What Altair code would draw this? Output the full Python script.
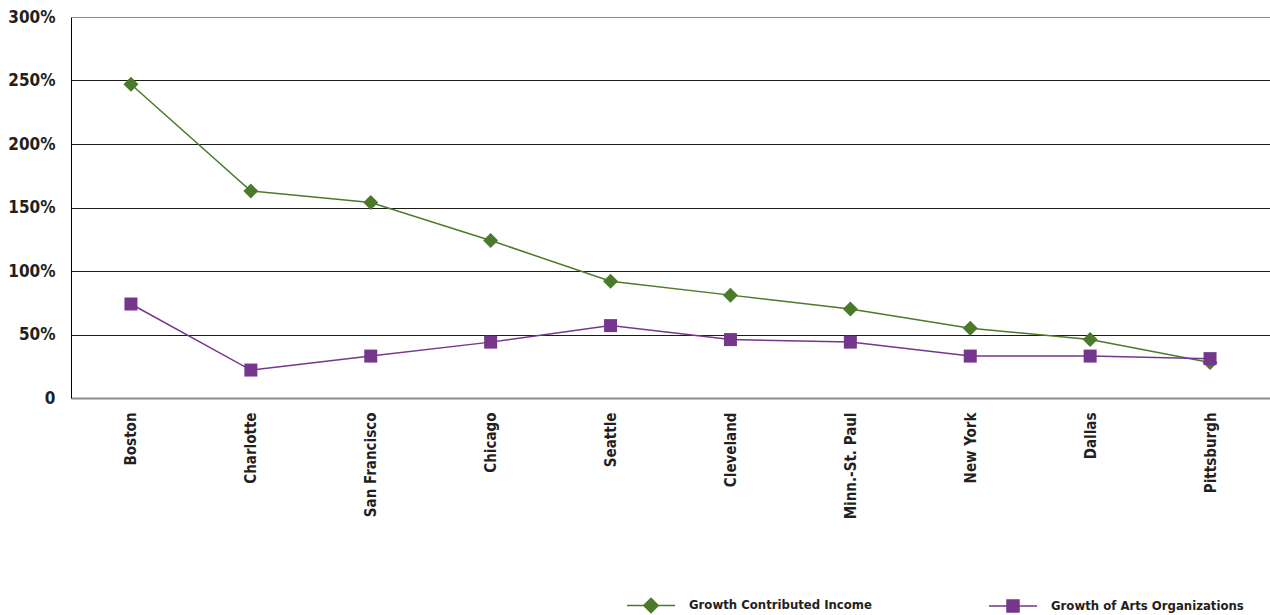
import altair as alt
import pandas as pd

cities = ["Boston", "Charlotte", "San Francisco", "Chicago", "Seattle",
          "Cleveland", "Minn.-St. Paul", "New York", "Dallas", "Pittsburgh"]
income_growth = [247, 163, 154, 124, 92, 81, 70, 55, 46, 28]
orgs_growth = [74, 22, 33, 44, 57, 46, 44, 33, 33, 31]
series_names = ["Growth Contributed Income", "Growth of Arts Organizations"]
y_ticks = [0, 50, 100, 150, 200, 250, 300]

GREEN = "#4a7a2a"
PURPLE = "#75378b"
FONT = "DejaVu Sans Condensed, sans-serif"
TEXT = "#231f20"

rows = []
for c, v in zip(cities, income_growth):
    rows.append({"city": c, "value": v, "series": series_names[0]})
for c, v in zip(cities, orgs_growth):
    rows.append({"city": c, "value": v, "series": series_names[1]})
df = pd.DataFrame(rows)

x_enc = alt.X("city:N", sort=cities, scale=alt.Scale(padding=0.5),
              axis=alt.Axis(title=None, labelAngle=270, labelAlign="right",
                            labelBaseline="middle", labelPadding=14,
                            ticks=False, domainColor="#8c8c8c", domainWidth=2,
                            labelFont=FONT, labelFontSize=15,
                            labelFontWeight="bold", labelColor=TEXT))
y_enc = alt.Y("value:Q", scale=alt.Scale(domain=[0, 300], nice=False),
              axis=alt.Axis(title=None, values=y_ticks, ticks=False,
                            labelExpr="datum.value === 0 ? '0' : datum.value + '%'",
                            labelPadding=16, labelFont=FONT, labelFontSize=17,
                            labelFontWeight="bold", labelColor=TEXT,
                            domainColor="#000000", domainWidth=1,
                            grid=True,
                            gridColor={"condition": {"test": "datum.value === 300 || datum.value === 0",
                                                     "value": "#8c8c8c"},
                                       "value": "#1a1a1a"},
                            gridWidth=1))

color_scale = alt.Scale(domain=series_names, range=[GREEN, PURPLE])

base = alt.Chart(df)

lines = base.mark_line(strokeWidth=1.5).encode(
    x=x_enc, y=y_enc,
    color=alt.Color("series:N", scale=color_scale, legend=None),
    detail="series:N",
)

diamonds = base.transform_filter(
    alt.datum.series == series_names[0]
).mark_point(shape="diamond", filled=True, size=225, opacity=1).encode(
    x=x_enc, y=y_enc,
    color=alt.Color("series:N", scale=color_scale, legend=None),
)

squares = base.transform_filter(
    alt.datum.series == series_names[1]
).mark_point(shape="square", filled=True, size=169, opacity=1).encode(
    x=x_enc, y=y_enc,
    color=alt.Color("series:N", scale=color_scale, legend=None),
)

legend_shapes = [
    "M-1,0L1,0M0,-0.3L0.3,0L0,0.3L-0.3,0Z",
    "M-1,0L1,0M-0.25,-0.25L0.25,-0.25L0.25,0.25L-0.25,0.25Z",
]
legend_def = alt.Legend(
    title=None, orient="none", legendX=555, legendY=563, direction="horizontal",
    columns=2, columnPadding=114, symbolSize=2304, symbolStrokeWidth=1.5,
    symbolOpacity=1, labelOffset=13, labelFont=FONT, labelFontSize=13,
    labelFontWeight="bold", labelColor=TEXT, padding=0, labelLimit=400,
)
legend_layer = base.mark_point(filled=True, opacity=0, size=10).encode(
    x=x_enc, y=y_enc,
    shape=alt.Shape("series:N", scale=alt.Scale(domain=series_names, range=legend_shapes),
                    legend=legend_def),
    fill=alt.Fill("series:N", scale=alt.Scale(domain=series_names, range=[GREEN, PURPLE]),
                  legend=legend_def),
    stroke=alt.Stroke("series:N", scale=alt.Scale(domain=series_names, range=[GREEN, PURPLE]),
                      legend=legend_def),
)

chart = alt.layer(legend_layer, lines, diamonds, squares).properties(
    width=1199, height=381,
    padding={"left": 71, "top": 17, "right": 0, "bottom": 217},
    autosize=alt.AutoSizeParams(type="none"),
    background="white",
).configure_view(stroke=None)

chart.save("out.html", embed_options={"renderer": "svg", "actions": False})
